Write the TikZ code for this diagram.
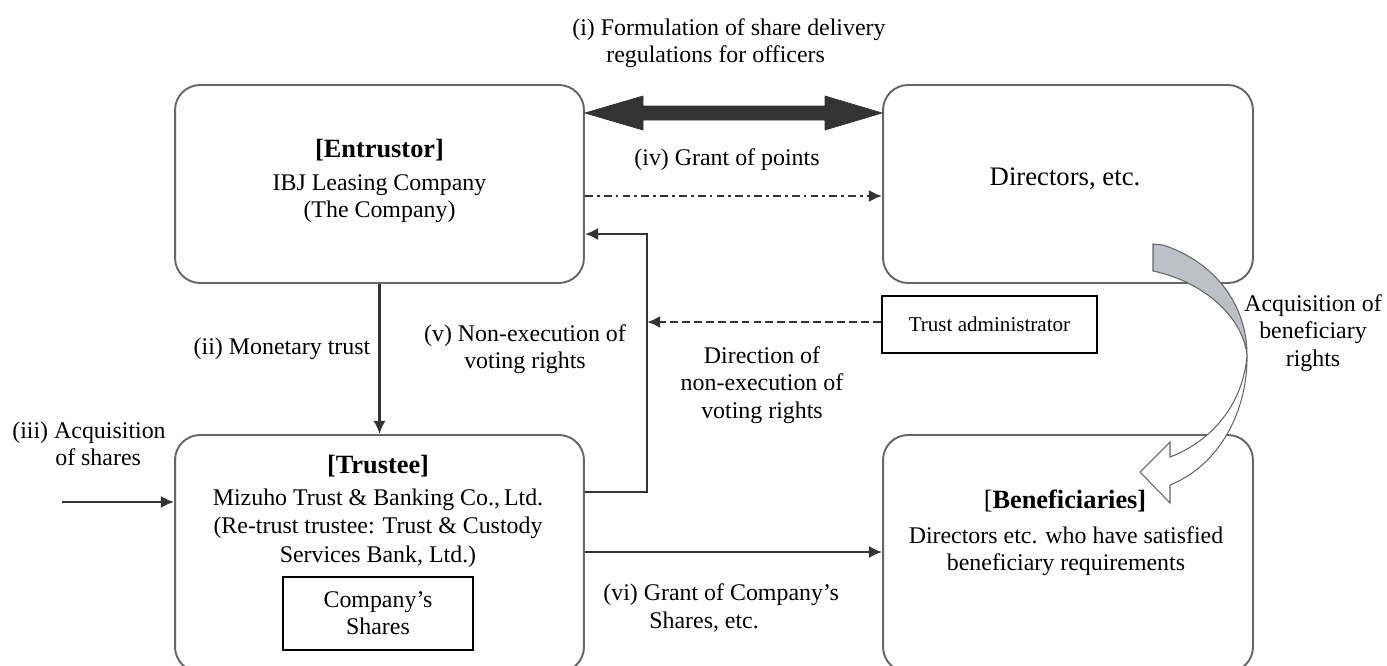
\documentclass[tikz,border=0pt]{standalone}
\usepackage{fontspec}
\setmainfont{Liberation Serif}
\usetikzlibrary{arrows.meta, positioning}
\definecolor{boxgray}{HTML}{666666}
\definecolor{linegray}{HTML}{333333}
\definecolor{ribbon}{HTML}{BDC0C7}
\tikzstyle{party}=[draw=boxgray, line width=1.1pt, rounded corners=0.5cm, inner sep=0pt]
\tikzstyle{plain box}=[draw=black, line width=1.3pt, inner sep=0pt, align=center]
\tikzstyle{note}=[inner sep=0pt, align=center, font=\fontsize{13.6}{15.5}\selectfont]
\tikzstyle{heading}=[inner sep=0pt, font=\fontsize{15}{17}\selectfont\bfseries]
\tikzstyle{flow}=[draw=linegray, line width=1.5pt, -{Latex[length=7.5pt,width=7pt]}]
\tikzstyle{dashflow}=[flow, dash pattern=on 4.5pt off 2.3pt]
\tikzstyle{dotflow}=[flow, dash pattern=on 4.5pt off 2.3pt on 1.6pt off 2.3pt]

\begin{document}
\begin{tikzpicture}[x=0.02cm, y=-0.02cm]
		\clip (0,0) rectangle (1387,666);
		% Draw the four parties
		\node[party, minimum width=8.18cm, minimum height=3.96cm] (En) at (379.5,184) {};
		\node[party, minimum width=7.4cm, minimum height=3.96cm] (Di) at (1068,184) {};
		\node[party, minimum width=8.18cm, minimum height=4.74cm] (Tr) at (379.5,553.5) {};
		\node[party, minimum width=7.4cm, minimum height=4.74cm] (Be) at (1068,553.5) {};

		% Texts of the parties
		\node[heading, anchor=base] (En-h) at (379.5,157) {[Entrustor]};
		\node[note] (En-t) at (379.5,199) {IBJ Leasing Company\\(The Company)};
		\node[anchor=base, inner sep=0pt, font=\fontsize{15.2}{17}\selectfont] (Di-t) at (1065,185) {Directors, etc.};
		\node[heading, anchor=base] (Tr-h) at (378,473) {[Trustee]};
		\node[note, font=\fontsize{13.6}{16.2}\selectfont] (Tr-t) at (378,528) {Mizuho Trust \& Banking Co.,\,Ltd.\\(Re-trust trustee: Trust \& Custody\\Services Bank, Ltd.)};
		\node[plain box, note, minimum width=3.8cm, minimum height=1.46cm] (shares) at (378,613.5) {Company's\\Shares};
		\node[heading, anchor=base] (Be-h) at (1065,508) {\mdseries[\bfseries Beneficiaries]};
		\node[note] (Be-t) at (1066,551) {Directors etc. who have satisfied\\beneficiary requirements};
		\node[plain box, minimum width=4.3cm, minimum height=1.14cm, font=\fontsize{12}{14}\selectfont] (TA) at (989.5,324.5) {Trust administrator};

		% Labels of the flows
		\node[note, align=left, anchor=west] (i) at (572,43) {(i) Formulation of share delivery\\\hspace*{0.68cm}regulations for officers};
		\node[note, anchor=base] (iv) at (727,165) {(iv) Grant of points};
		\node[note, anchor=base] (ii) at (282,354) {(ii) Monetary trust};
		\node[note] (v) at (525,349) {(v) Non-execution of\\voting rights};
		\node[note] (dir) at (762,385) {Direction of\\non-execution of\\voting rights};
		\node[note] (acq) at (1313,333) {Acquisition of\\beneficiary\\rights};
		\node[note, align=left, anchor=west] (iii) at (12,444) {(iii) Acquisition\\\hspace*{0.86cm}of shares};
		\node[note, align=left, anchor=west] (vi) at (603,608) {(vi) Grant of Company's\\\hspace*{0.92cm}Shares, etc.};

		% Flows between the parties
		\draw[linegray, fill=linegray] (En.east |- 0,113) -- (643,96) -- (643,106) -- (825,106) -- (825,96)
			-- (Di.west |- 0,113) -- (825,130) -- (825,120) -- (643,120) -- (643,130) -- cycle;
		\draw[dotflow] (En.east |- 0,196) -- (Di.west |- 0,196);
		\draw[flow] (En) -- (Tr);
		\coordinate (vturn) at (647,234);
		\draw[flow] (Tr.east |- 0,492) -| (vturn) -- (En.east |- vturn);
		\draw[dashflow] (TA.west |- 0,322) -- (vturn |- 0,322);
		\draw[flow] (Tr.east |- 0,552) -- (Be.west |- 0,552);
		\coordinate (buy) at (62,502);
		\draw[flow] (buy) -- (buy -| Tr.west);

		% Acquisition of beneficiary rights
		\filldraw[fill=ribbon, draw=boxgray, line width=0.6pt] (1153,244) -- (1163,245)
			.. controls (1215,262) and (1247,305) .. (1247,355)
			.. controls (1243,318) and (1205,282) .. (1153,271) -- cycle;
		\filldraw[fill=white, draw=boxgray, line width=0.6pt] (1247,355)
			.. controls (1248,410) and (1220,465) .. (1170,485)
			-- (1170,503) -- (1140,472) -- (1170,442) -- (1170,457)
			.. controls (1215,440) and (1244,400) .. (1247,355) -- cycle;
\end{tikzpicture}
\end{document}
